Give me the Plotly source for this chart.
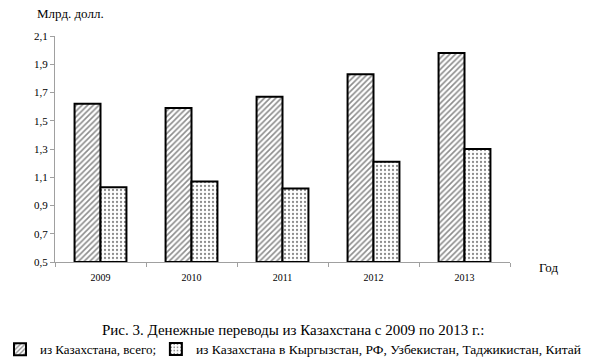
import plotly.graph_objects as go

years = ["2009", "2010", "2011", "2012", "2013"]
total = [1.62, 1.59, 1.67, 1.83, 1.98]
to_countries = [1.03, 1.07, 1.02, 1.21, 1.30]
name_total = "из Казахстана, всего;"
name_countries = "из Казахстана в Кыргызстан, РФ, Узбекистан, Таджикистан, Китай"
y_ticks = [0.5, 0.7, 0.9, 1.1, 1.3, 1.5, 1.7, 1.9, 2.1]
y_ticktext = [f"{v:.1f}".replace(".", ",") for v in y_ticks]

FONT = "Liberation Serif, Times New Roman, serif"

fig = go.Figure()
fig.add_trace(go.Bar(
    x=years, y=[v - 0.5 for v in total], base=0.5, name=name_total, legend="legend",
    marker=dict(color="white", line=dict(color="black", width=2),
                pattern=dict(shape="/", fgcolor="#1a1a1a", bgcolor="white", size=4, solidity=0.4)),
))
fig.add_trace(go.Bar(
    x=years, y=[v - 0.5 for v in to_countries], base=0.5, name=name_countries, legend="legend2",
    marker=dict(color="white", line=dict(color="black", width=2),
                pattern=dict(shape=".", fgcolor="#1a1a1a", bgcolor="white", size=4, solidity=0.25)),
))

leg_common = dict(orientation="h", xref="container", yref="container", xanchor="left",
                  y=0.03, yanchor="middle", itemwidth=30, bgcolor="rgba(0,0,0,0)", borderwidth=0)

fig.update_layout(
    width=595, height=360,
    margin=dict(l=55, r=85, t=36, b=98, autoexpand=False),
    paper_bgcolor="white", plot_bgcolor="white",
    barmode="group", bargap=0.43, bargroupgap=0,
    font=dict(family=FONT, color="black"),
    showlegend=True,
    legend=dict(x=0.0, font=dict(size=13, family=FONT), **leg_common),
    legend2=dict(x=0.262, font=dict(size=13.5, family=FONT), **leg_common),
    xaxis=dict(showline=True, linecolor="#a0a0a0", linewidth=1, ticks="outside",
               tickson="boundaries", ticklen=4, tickcolor="#a0a0a0",
               tickfont=dict(size=10, family=FONT), ticklabelstandoff=6, showgrid=False),
    yaxis=dict(range=[0.5, 2.1], tickvals=y_ticks, ticktext=y_ticktext,
               showline=True, linecolor="#a0a0a0", linewidth=1, ticks="outside",
               ticklen=4, tickcolor="#a0a0a0", tickfont=dict(size=11, family=FONT),
               showgrid=False, zeroline=False),
    annotations=[
        dict(text="Млрд. долл.", xref="paper", yref="paper", x=-0.044, y=1.0, yshift=23,
             xanchor="left", yanchor="middle", showarrow=False, font=dict(size=13, family=FONT)),
        dict(text="Год", xref="paper", yref="paper", x=1.059, y=0, yshift=-5,
             xanchor="left", yanchor="middle", showarrow=False, font=dict(size=13, family=FONT)),
        dict(text="Рис. 3. Денежные переводы из Казахстана с 2009 по 2013 г.:", xref="paper",
             yref="paper", x=0.523, y=0, yshift=-68, xanchor="center", yanchor="middle",
             showarrow=False, font=dict(size=15, family=FONT)),
    ],
)

fig.write_html("out.html", config={"displayModeBar": False},
               post_script="document.body.style.margin='0';")
